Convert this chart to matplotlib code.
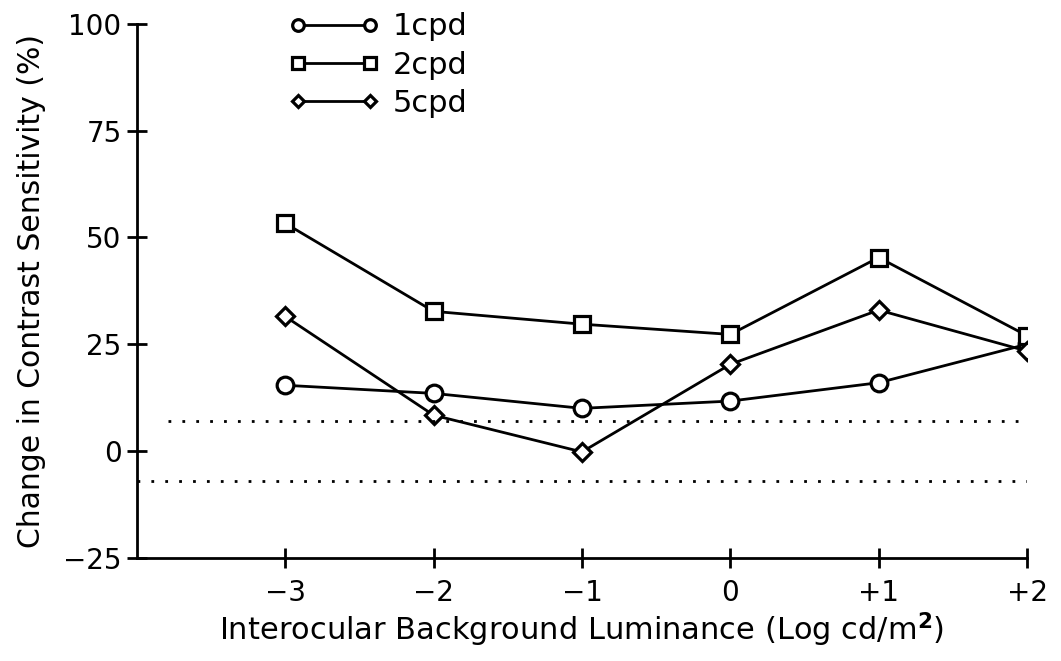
import matplotlib
matplotlib.use("Agg")
import matplotlib.pyplot as plt

# log background luminance (cd/m^2)
luminance = [-3, -2, -1, 0, 1, 2]
tick_labels = ["\u22123", "\u22122", "\u22121", "0", "+1", "+2"]

# change in contrast sensitivity (%)
cs_1cpd = [15.4, 13.5, 10.0, 11.7, 16.0, 25.0]
cs_2cpd = [53.3, 32.7, 29.7, 27.3, 45.3, 27.0]
cs_5cpd = [31.5, 8.4, -0.2, 20.3, 33.0, 23.4]

# +/- criterion band
band = [7, -7]

plt.rcParams["font.family"] = "DejaVu Sans"

fig = plt.figure(figsize=(10.61, 6.61), dpi=100)
ax = fig.add_axes([0.129, 0.156, 0.839, 0.808])

style = dict(color="black", lw=2, mfc="white", mec="black", mew=2.3, ms=12)
ax.plot(luminance, cs_1cpd, marker="o", label="1cpd", **style)
ax.plot(luminance, cs_2cpd, marker="s", label="2cpd", **style)
ax.plot(luminance, cs_5cpd, marker="D", label="5cpd", **dict(style, ms=9))

ax.axhline(band[0], xmin=0.035, xmax=1.0, color="black", ls=(0, (1, 4)), lw=2)
ax.axhline(band[1], xmin=0.0, xmax=1.0, color="black", ls=(0, (1, 4)), lw=2)

ax.set_xlim(-4, 2)
ax.set_ylim(-25, 100)
ax.set_xticks(luminance)
ax.set_xticklabels(tick_labels)
ax.set_yticks([-25, 0, 25, 50, 75, 100])
ax.set_yticklabels(["\u221225", "0", "25", "50", "75", "100"])

for s in ["top", "right"]:
    ax.spines[s].set_visible(False)
for s in ["left", "bottom"]:
    ax.spines[s].set_linewidth(2)
ax.tick_params(direction="inout", length=14, width=2, labelsize=20, pad=4)
ax.tick_params(axis="x", pad=8)

ax.set_xlabel("Interocular Background Luminance (Log cd/m$^{\\mathbf{2}}$)", fontsize=22, labelpad=3)
ax.set_ylabel("Change in Contrast Sensitivity (%)", fontsize=21.5, labelpad=12)

leg = ax.legend(loc="upper left", bbox_to_anchor=(0.154, 1.05), numpoints=2, frameon=False,
                fontsize=22, handlelength=2.95, handletextpad=0.45, labelspacing=0.3,
                borderpad=0, markerscale=0.7)

fig.savefig("out.png", dpi=100)
